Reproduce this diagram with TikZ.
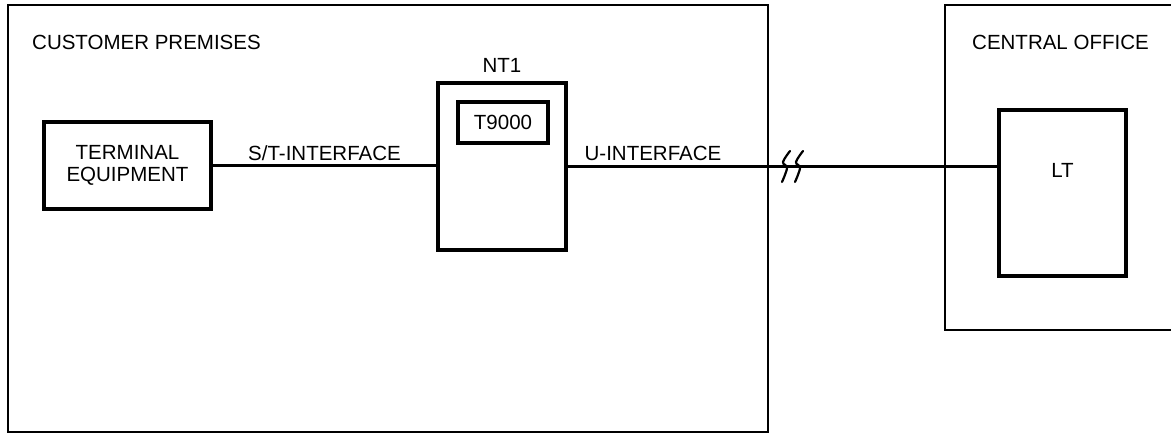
\documentclass[tikz,border=0pt]{standalone}
\usepackage{fontspec}
\setmainfont{Liberation Sans}
\usetikzlibrary{positioning,calc}

\begin{document}
\begin{tikzpicture}[
			x=1pt,y=-1pt,
			every node/.style={font=\fontsize{20.5}{24}\selectfont},
			area/.style={draw,line width=2.2pt},
			unit/.style={
				draw,
				line width=3.3pt,
				align=center,
				inner sep=0pt
			},
			wire/.style={line width=2.2pt},
			squig/.style={line width=2.2pt,line cap=round}
			]
			\useasboundingbox (0,0) rectangle (1171,436);
			% customer side
			\node[area,minimum width=760,minimum height=427](cp) at (388,218.5) {};
			\node[anchor=west,inner sep=0pt](cpl) at (32,42) {CUSTOMER PREMISES};
			\node[unit,minimum width=167,minimum height=87](te) at (127.5,165.5) {TERMINAL\\[-2pt]EQUIPMENT};
			\node[unit,minimum width=128,minimum height=167](nt) at (502,166.5) {};
			\node[inner sep=0pt](ntl) at (502,65) {NT1};
			\node[unit,minimum width=90,minimum height=41](t9) at (503,122.5) {T9000};
			% central office side
			\draw[area] (1172,5) -- (945,5) -- (945,330) -- (1172,330);
			\node[anchor=west,inner sep=0pt](col) at (972,42) {CENTRAL OFFICE};
			\node[unit,minimum width=127,minimum height=166](lt) at (1062.5,193) {};
			\node[inner sep=0pt](ltl) at (1062.5,170) {LT};
			% links
			\draw[wire] (te.east) -- node[above=4pt,inner sep=0pt]{S/T-INTERFACE} (te.east -| nt.west);
			\draw[wire] (nt.east) -- (nt.east -| lt.west);
			\node[inner sep=0pt](uil) at (653,153) {U-INTERFACE};
			% line break mark
			\coordinate (brk) at (787,168);
			\foreach \dx in {0,13}{
				\draw[squig] plot[smooth,tension=0.6] coordinates {($(brk)+(\dx+3,-17)$) ($(brk)+(\dx-4,-6)$) ($(brk)+(\dx,0)$) ($(brk)+(\dx-5,14)$)};
			}
		\end{tikzpicture}
\end{document}
